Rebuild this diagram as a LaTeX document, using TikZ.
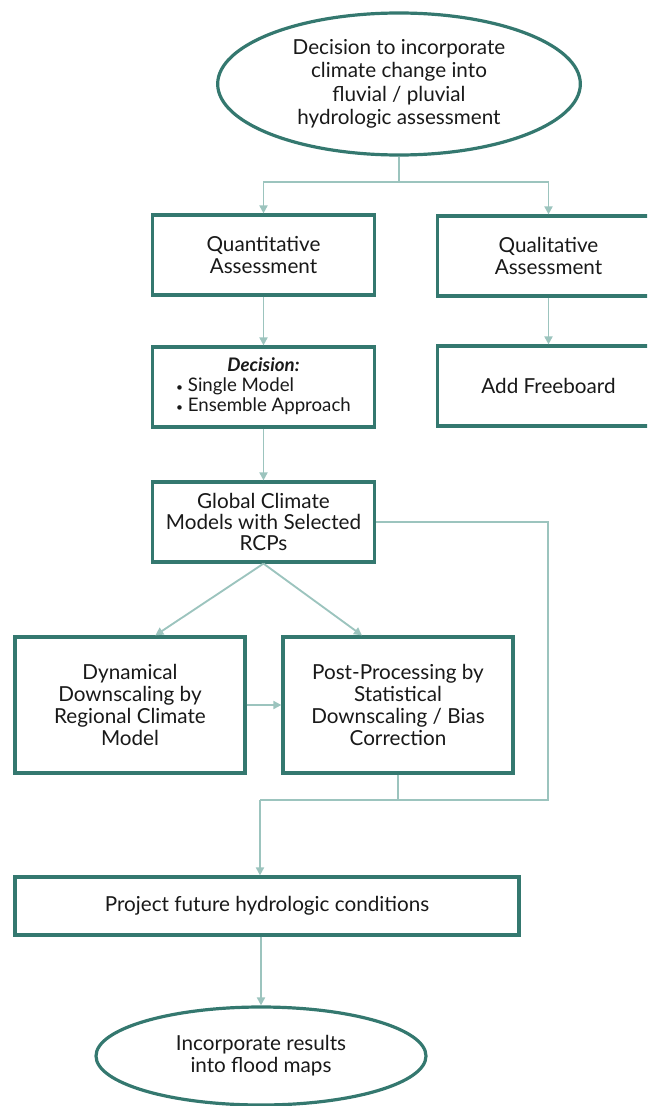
\documentclass[tikz,border=0pt]{standalone}
\usepackage{fontspec}
\setmainfont{Lato}
\usepackage{tikz}
\usetikzlibrary{arrows.meta, positioning, shapes.geometric}
\definecolor{boxteal}{RGB}{52,120,111}
\definecolor{linkteal}{RGB}{156,196,190}
\definecolor{inkgray}{RGB}{25,25,25}

\begin{document}
\begin{tikzpicture}[x=0.75pt, y=-0.75pt,
  every node/.style={text=inkgray, font=\fontsize{15.5}{16.3}\selectfont},
  stepbox/.style={draw=boxteal, line width=2.4pt, fill=white, align=center,
    minimum width=167pt, minimum height=60pt, inner sep=1pt},
  wideBox/.style={stepbox, minimum width=172.5pt, minimum height=102pt},
  endpoint/.style={ellipse, draw=boxteal, line width=2.4pt, align=center, inner sep=0pt},
  link/.style={draw=linkteal, line width=1.4pt},
  flow/.style={link, -{Triangle[length=6pt, width=6pt]}}]

\useasboundingbox (0,0) rectangle (647,1106);
\clip (0,0) rectangle (647,1106);

% Start decision
\node[endpoint, minimum width=272pt, minimum height=106.5pt,
  font=\fontsize{15.5}{17.5}\selectfont] (start) at (399,84)
  {Decision to incorporate\\ climate change into\\ fluvial / pluvial\\ hydrologic assessment};

% Two assessment branches
\node[stepbox] (quant) at (263.5,255) {Quantitative\\ Assessment};
\node[stepbox] (qual) at (548.5,256) {Qualitative\\ Assessment};
\node[stepbox, font=\fontsize{14}{15}\selectfont] (choice) at (263.5,387)
  {\begin{tabular}{@{}l@{}}\multicolumn{1}{c}{\textbf{\textit{Decision:}}}\\
   {\small•} Single Model\\ {\small•} Ensemble Approach\end{tabular}};
\node[stepbox] (freeboard) at (548.5,386) {Add Freeboard};
\node[stepbox, font=\fontsize{15.5}{16}\selectfont] (gcm) at (263.5,522)
  {Global Climate\\ Models with Selected\\ RCPs};

% Downscaling boxes
\node[wideBox] (dynamic) at (130,705)
  {Dynamical\\ Downscaling by\\ Regional Climate\\ Model};
\node[wideBox] (postproc) at (398,705)
  {Post-Processing by\\ Statistical\\ Downscaling / Bias\\ Correction};

% Projection and result
\node[stepbox, minimum width=378pt, minimum height=43.5pt] (project) at (267,906)
  {Project future hydrologic conditions};
\node[endpoint, minimum width=247.5pt, minimum height=73.5pt] (result) at (261,1056)
  {Incorporate results\\ into flood maps};

% Fork below the start ellipse
\coordinate (fork) at (start.south |- 0,182);
\draw[link] (start.south) -- (fork);
\draw[flow] (fork) -| (quant.north);
\draw[flow] (fork) -| (qual.north);

\draw[flow] (quant) -- (choice);
\draw[flow] (choice) -- (gcm);
\draw[flow] (qual) -- (freeboard);

% Split to the downscaling methods
\draw[flow] (gcm.south) -- ([xshift=19pt]dynamic.north);
\draw[flow] (gcm.south) -- ([xshift=-27pt]postproc.north);
\draw[flow] (dynamic) -- (postproc);

% Bypass and merge into projection
\coordinate (bypass) at (548,800);
\coordinate (merge) at (260,800);
\draw[link] (gcm.east) -| (bypass) -- (merge);
\draw[link] (postproc.south) -- (postproc.south |- merge);
\draw[flow] (merge) -- (merge |- project.north);

\draw[flow] (result.north |- project.south) -- (result.north);

\end{tikzpicture}
\end{document}
